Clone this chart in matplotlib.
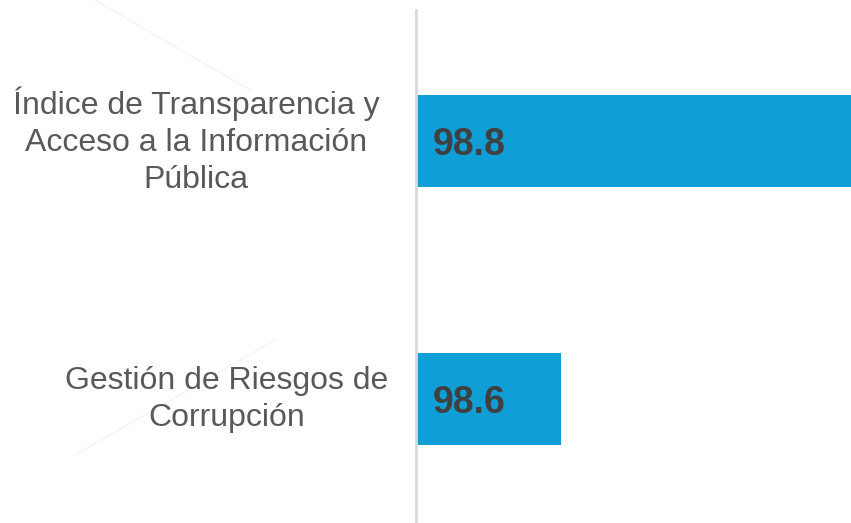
import matplotlib
matplotlib.use("Agg")
import matplotlib.pyplot as plt
from matplotlib.lines import Line2D
from matplotlib.transforms import blended_transform_factory

categories = ["Índice de Transparencia y\nAcceso a la Información\nPública",
              "Gestión de Riesgos de\nCorrupción"]
values = [98.8, 98.6]
value_labels = ["98.8", "98.6"]

plt.rcParams['font.family'] = ['Liberation Sans', 'DejaVu Sans']

fig = plt.figure(figsize=(8.51, 5.23), dpi=100)
ax = fig.add_axes([416/851, 0, 1 - 416/851, 1 - 10/523])

xmin = 98.5
ypos = [1, 0]
ax.barh(ypos, [v - xmin for v in values], left=xmin, height=0.357,
        color="#109ED6", zorder=2)
ax.set_xlim(xmin, 98.8)
ax.set_ylim(-0.48, 1.508)

for spine in ["top", "right", "bottom"]:
    ax.spines[spine].set_visible(False)
ax.spines["left"].set_color("#D9D9D9")
ax.spines["left"].set_linewidth(2)
ax.set_xticks([])
ax.set_yticks([])

trans = blended_transform_factory(fig.transFigure, ax.transData)
label_centers = [196/851, 227/851]
for y, cat, cx in zip(ypos, categories, label_centers):
    ax.text(cx, y, cat, transform=trans,
            ha="center", va="center", multialignment="center",
            fontsize=23, color="#595959", linespacing=1.3)

for y, lab in zip(ypos, value_labels):
    ax.annotate(lab, xy=(xmin, y), xytext=(12, -3), textcoords="offset points",
                ha="left", va="center", fontsize=27, fontweight="bold",
                color="#404040", zorder=3)

# faint decorative background strokes
fig.add_artist(Line2D([95/851, 250/851], [1, 1 - 90/523], color="#F6F6F6", lw=1.2, zorder=0))
fig.add_artist(Line2D([75/851, 275/851], [1 - 455/523, 1 - 340/523], color="#F6F6F6", lw=1.2, zorder=0))

fig.savefig("out.png", dpi=100)
